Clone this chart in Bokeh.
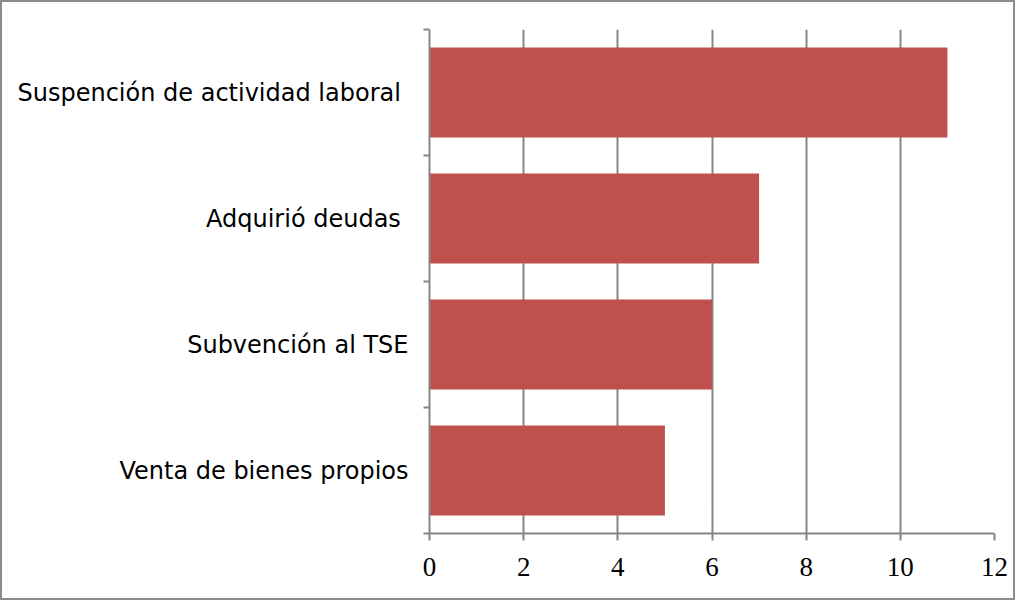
from bokeh.plotting import figure
from bokeh.models import FixedTicker, Range1d
from bokeh.embed import file_html
from bokeh.resources import INLINE

categories = ["Venta de bienes propios", "Subvención al TSE", "Adquirió deudas ", "Suspención de actividad laboral "]
values = [5, 6, 7, 11]
x_ticks = [0, 2, 4, 6, 8, 10, 12]

positions = [i + 0.5 for i in range(len(categories))]
boundaries = [float(i) for i in range(len(categories) + 1)]

p = figure(width=1015, height=600, output_backend="svg", toolbar_location=None,
           x_range=Range1d(0, 12), y_range=Range1d(0, len(categories)),
           min_border_left=427, min_border_right=23, min_border_top=27, min_border_bottom=69)
p.styles = {"border": "2px solid #8c8c8c", "box-sizing": "border-box"}
p.outline_line_color = None
p.background_fill_color = "white"
p.border_fill_color = "white"

p.hbar(y=positions, right=values, left=0, height=0.714, fill_color="#C0504D", line_color=None)

gray = "#868686"
p.xaxis.ticker = FixedTicker(ticks=x_ticks)
p.xaxis.axis_line_color = gray
p.xaxis.axis_line_width = 2
p.xaxis.major_tick_line_color = gray
p.xaxis.major_tick_line_width = 2
p.xaxis.major_tick_out = 7
p.xaxis.major_tick_in = 0
p.xaxis.minor_tick_line_color = None
p.xaxis.major_label_text_font = "Liberation Serif"
p.xaxis.major_label_text_font_size = "27px"
p.xaxis.major_label_text_color = "black"
p.xaxis.major_label_standoff = 17

p.yaxis.ticker = FixedTicker(ticks=positions, minor_ticks=boundaries)
p.yaxis.major_label_overrides = {pos: lab for pos, lab in zip(positions, categories)}
p.yaxis.axis_line_color = gray
p.yaxis.axis_line_width = 2
p.yaxis.major_tick_line_color = None
p.yaxis.minor_tick_line_color = gray
p.yaxis.minor_tick_line_width = 2
p.yaxis.minor_tick_out = 6
p.yaxis.minor_tick_in = 0
p.yaxis.major_label_text_font = "DejaVu Sans"
p.yaxis.major_label_text_font_size = "24px"
p.yaxis.major_label_text_color = "black"
p.yaxis.major_label_standoff = 15

p.xgrid.ticker = FixedTicker(ticks=x_ticks)
p.xgrid.grid_line_color = gray
p.xgrid.grid_line_width = 2
p.ygrid.grid_line_color = None

open("out.html", "w").write(file_html(p, INLINE))
